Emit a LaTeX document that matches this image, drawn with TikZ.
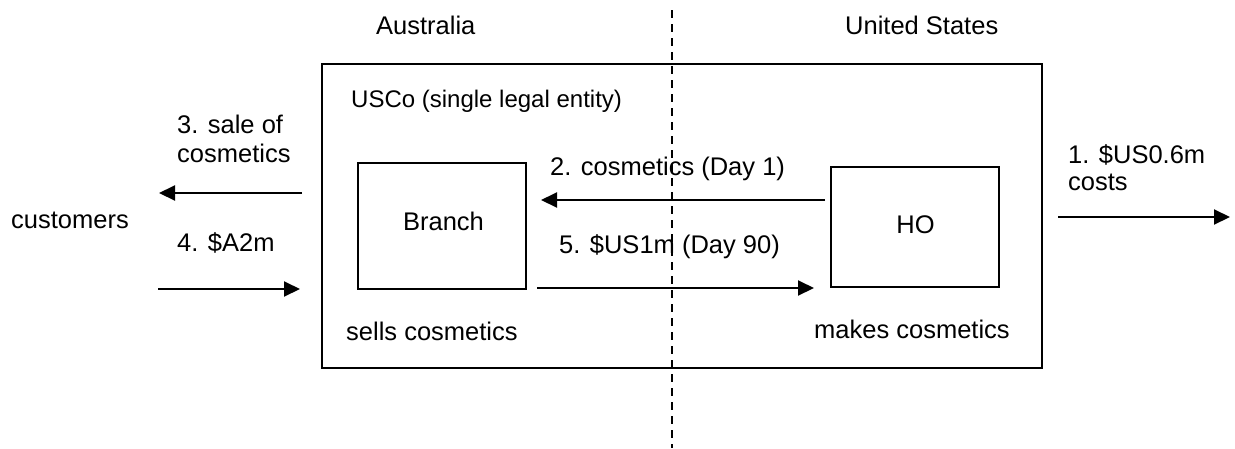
\documentclass[tikz,border=0pt]{standalone}
\usepackage{fontspec}
\setmainfont{Liberation Sans}
\usetikzlibrary{arrows.meta}
\begin{document}
\begin{tikzpicture}[x=1pt,y=-1pt,
  lbl/.style={anchor=base west, inner sep=0pt, font=\fontsize{25.5}{30}\selectfont},
  clbl/.style={lbl, anchor=base},
  box/.style={draw, line width=2pt, inner sep=0pt},
  arr/.style={line width=2pt, -{Triangle[length=16pt,width=15pt]}},
  border/.style={dash pattern=on 8pt off 6pt, line width=1.5pt}]
\useasboundingbox (0,0) rectangle (1235,448);
% boxes
\node[box, minimum width=720pt, minimum height=304pt] (usco) at (682,216) {};
\node[box, minimum width=168pt, minimum height=126pt] (branch) at (442,226) {};
\node[box, minimum width=168pt, minimum height=120pt] (ho) at (915,227) {};
% border line
\coordinate (btop) at (672,10);
\coordinate (bbot) at (672,448);
\draw[border] (btop) -- (bbot);
% texts
\node[lbl] (aus) at (376,34) {Australia};
\node[lbl] (us) at (845,34) {United States};
\node[lbl, font=\fontsize{24}{28}\selectfont] (uscotxt) at (351,107) {USCo (single legal entity)};
\node[lbl] (sale1) at (177,133) {3. sale of};
\node[lbl] (sale2) at (177,162) {cosmetics};
\node[lbl] (cust) at (11,228) {customers};
\node[lbl] (pay) at (177,251) {4. \$A2m};
\node[clbl] (branchtxt) at (443.5,230) {Branch};
\node[clbl] (hotxt) at (915.5,233) {HO};
\node[lbl] (sells) at (346,340) {sells cosmetics};
\node[lbl] (makes) at (814,338) {makes cosmetics};
\node[lbl] (cosm) at (550,175) {2. cosmetics (Day 1)};
\node[lbl] (usone) at (559,253) {5. \$US1m (Day 90)};
\node[lbl] (cost1) at (1068,163) {1. \$US0.6m};
\node[lbl] (cost2) at (1068,190) {costs};
% arrow ends
\coordinate (a3s) at (302,193); \coordinate (a3e) at (159,193);
\coordinate (a4s) at (158,289); \coordinate (a4e) at (300,289);
\coordinate (a2s) at (825,200); \coordinate (a2e) at (541,200);
\coordinate (a5s) at (537,288); \coordinate (a5e) at (814,288);
\coordinate (a1s) at (1058,217); \coordinate (a1e) at (1230,217);
\draw[arr] (a3s) -- (a3e);
\draw[arr] (a4s) -- (a4e);
\draw[arr] (a2s) -- (a2e);
\draw[arr] (a5s) -- (a5e);
\draw[arr] (a1s) -- (a1e);
\end{tikzpicture}
\end{document}
